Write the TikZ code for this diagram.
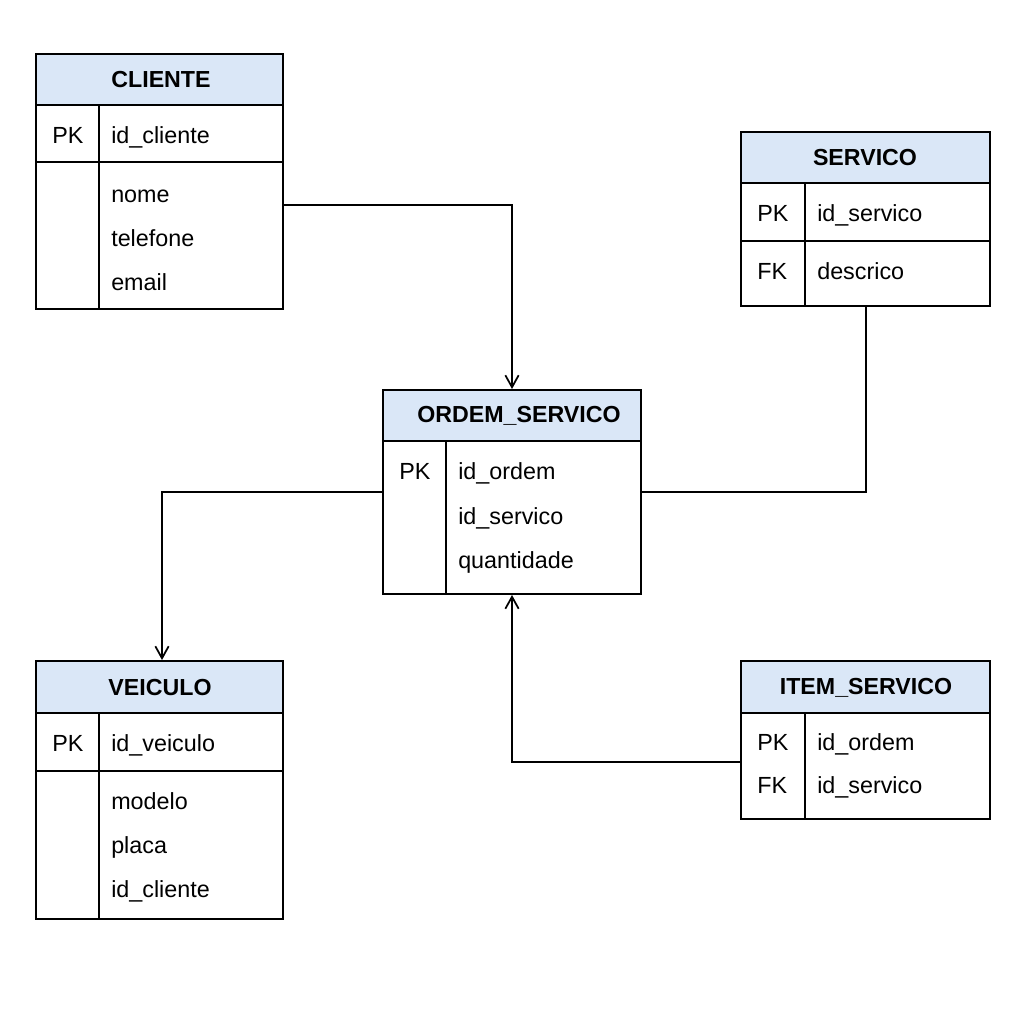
\documentclass[tikz,border=0pt]{standalone}
\usepackage{fontspec}
\setmainfont{Liberation Sans}
\usetikzlibrary{fit,arrows.meta}
\definecolor{headblue}{HTML}{DAE7F7}
\tikzset{
  tbox/.style={draw, line width=1.5pt, inner sep=0pt, fill=none},
  thead/.style={fill=headblue},
  tline/.style={line width=1.5pt},
  ttitle/.style={font=\fontsize{17.4}{19}\selectfont\bfseries, inner sep=0pt},
  tfield/.style={font=\fontsize{17.5}{19}\selectfont, anchor=west, inner sep=0pt,
                 text height=12pt, text depth=0pt},
  link/.style={line width=1.5pt},
  arr/.style={link, -{Straight Barb[length=9pt,width=10pt,line width=1.3pt]}}
}
\begin{document}
\begin{tikzpicture}[x=0.75pt,y=-0.75pt]
\useasboundingbox (0,0) rectangle (1024,1024);
\fill[white] (0,0) rectangle (1024,1024);

% ---------- CLIENTE ----------
\fill[thead] (36,54) rectangle (283,105);
\node[tbox, fit={(36,54) (283,309)}] (cliente) {};
\draw[tline] (36,105) -- (283,105);
\draw[tline] (36,162) -- (283,162);
\draw[tline] (99,105) -- (99,309);
\node[ttitle] (clienteT) at (161,80) {CLIENTE};
\node[tfield] (clienteK1) at (52,135) {PK};
\node[tfield] (clienteF1) at (111,135) {id\_cliente};
\node[tfield] (clienteF2) at (111,194) {nome};
\node[tfield] (clienteF3) at (111,238) {telefone};
\node[tfield] (clienteF4) at (111,282) {email};

% ---------- SERVICO ----------
\fill[thead] (741,132) rectangle (990,183);
\node[tbox, fit={(741,132) (990,306)}] (servico) {};
\draw[tline] (741,183) -- (990,183);
\draw[tline] (741,241) -- (990,241);
\draw[tline] (805,183) -- (805,306);
\node[ttitle] (servicoT) at (865,158) {SERVICO};
\node[tfield] (servicoK1) at (757,213) {PK};
\node[tfield] (servicoF1) at (817,213) {id\_servico};
\node[tfield] (servicoK2) at (757,271) {FK};
\node[tfield] (servicoF2) at (817,271) {descrico};

% ---------- ORDEM_SERVICO ----------
\fill[thead] (383,390) rectangle (641,441);
\node[tbox, fit={(383,390) (641,594)}] (ordem) {};
\draw[tline] (383,441) -- (641,441);
\draw[tline] (446,441) -- (446,594);
\node[ttitle] (ordemT) at (519,416) {ORDEM\_SERVICO};
\node[tfield] (ordemK1) at (399,471) {PK};
\node[tfield] (ordemF1) at (458,471) {id\_ordem};
\node[tfield] (ordemF2) at (458,516) {id\_servico};
\node[tfield] (ordemF3) at (458,560) {quantidade};

% ---------- VEICULO ----------
\fill[thead] (36,661) rectangle (283,713);
\node[tbox, fit={(36,661) (283,919)}] (veiculo) {};
\draw[tline] (36,713) -- (283,713);
\draw[tline] (36,771) -- (283,771);
\draw[tline] (99,713) -- (99,919);
\node[ttitle] (veiculoT) at (160,688) {VEICULO};
\node[tfield] (veiculoK1) at (52,743) {PK};
\node[tfield] (veiculoF1) at (111,743) {id\_veiculo};
\node[tfield] (veiculoF2) at (111,801) {modelo};
\node[tfield] (veiculoF3) at (111,845) {placa};
\node[tfield] (veiculoF4) at (111,889) {id\_cliente};

% ---------- ITEM_SERVICO ----------
\fill[thead] (741,661) rectangle (990,713);
\node[tbox, fit={(741,661) (990,819)}] (item) {};
\draw[tline] (741,713) -- (990,713);
\draw[tline] (805,713) -- (805,819);
\node[ttitle] (itemT) at (866,688) {ITEM\_SERVICO};
\node[tfield] (itemK1) at (757,742) {PK};
\node[tfield] (itemF1) at (817,742) {id\_ordem};
\node[tfield] (itemK2) at (757,785) {FK};
\node[tfield] (itemF2) at (817,785) {id\_servico};

% ---------- relationships ----------
\coordinate (cliOut) at (cliente.east |- 0,205);
\coordinate (ordTop) at (512,0 |- ordem.north);
\coordinate (ordBot) at (512,0 |- ordem.south);
\coordinate (ordL) at (ordem.west |- 0,492);
\coordinate (ordR) at (ordem.east |- 0,492);
\coordinate (srvBot) at (866,0 |- servico.south);
\coordinate (veiTop) at (162,0 |- veiculo.north);
\coordinate (itemL) at (item.west |- 0,762);

\draw[arr] (cliOut) -| (ordTop);
\draw[link] (srvBot) |- (ordR);
\draw[arr] (ordL) -| (veiTop);
\draw[arr] (itemL) -| (ordBot);
\end{tikzpicture}
\end{document}
